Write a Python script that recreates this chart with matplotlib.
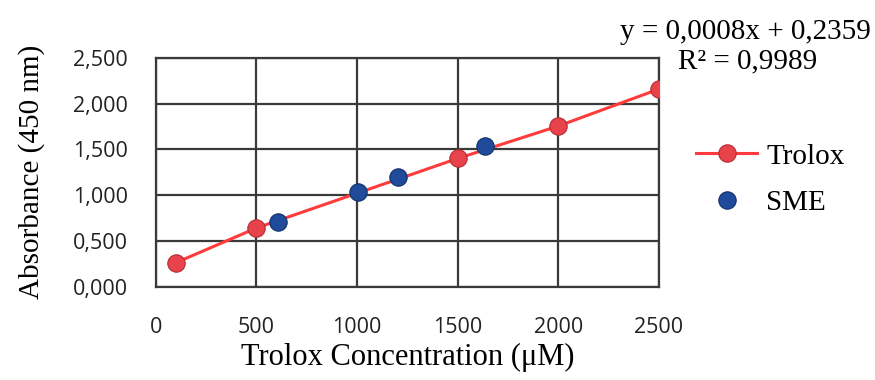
import matplotlib.pyplot as plt
from matplotlib.ticker import FuncFormatter

# Trolox standard curve
trolox_x = [100, 500, 1500, 2000, 2500]
trolox_y = [0.262, 0.641, 1.400, 1.754, 2.158]
# SME samples
sme_x = [609, 1003, 1205, 1636]
sme_y = [0.710, 1.037, 1.200, 1.536]

xticks = [0, 500, 1000, 1500, 2000, 2500]
yticks = [0, 0.5, 1.0, 1.5, 2.0, 2.5]

serif = ['Liberation Serif', 'DejaVu Serif']
sans = ['Open Sans', 'DejaVu Sans']

fig = plt.figure(figsize=(8.75, 3.8), dpi=100)
ax = fig.add_axes([0.178, 0.2455, 0.575, 0.6025])

ax.plot(trolox_x, trolox_y, color='#ff3b3b', lw=2.2, marker='o', ms=12.5,
        mfc='#e8434b', mec='#b52a30', mew=0.8, label='Trolox', zorder=3)
ax.plot(sme_x, sme_y, ls='none', marker='o', ms=12.5,
        mfc='#1f4b9a', mec='#10306b', mew=0.8, label='SME', zorder=4)

ax.set_xlim(0, 2500)
ax.set_ylim(0, 2.5)
ax.set_xticks(xticks)
ax.set_yticks(yticks)
ax.yaxis.set_major_formatter(FuncFormatter(lambda v, p: f'{v:.3f}'.replace('.', ',')))
ax.grid(True, color='#3a3a3a', lw=1.6)
ax.set_axisbelow(True)
for s in ax.spines.values():
    s.set_color('#3a3a3a')
    s.set_linewidth(1.6)
ax.tick_params(axis='x', length=0, pad=22)
ax.tick_params(axis='y', length=0, pad=20)
for lab in ax.get_xticklabels() + ax.get_yticklabels():
    lab.set_fontfamily(sans)
    lab.set_fontsize(15.5)
    lab.set_color('#222222')

ax.set_xlabel('Trolox Concentration (μM)', family=serif, fontsize=22, labelpad=3)
ax.set_ylabel('Absorbance (450 nm)', family=serif, fontsize=21, labelpad=20)

fig.text(0.995, 0.915, 'y = 0,0008x + 0,2359', family=serif, fontsize=21,
         ha='right', va='center')
fig.text(0.934, 0.838, 'R² = 0,9989', family=serif, fontsize=21,
         ha='right', va='center')

leg = ax.legend(loc='center left', bbox_to_anchor=(1.022, 0.467), frameon=False,
                prop={'family': serif, 'size': 21}, handlelength=2.1,
                labelspacing=0.7, handletextpad=0.3)

fig.savefig('out.png', dpi=100)
